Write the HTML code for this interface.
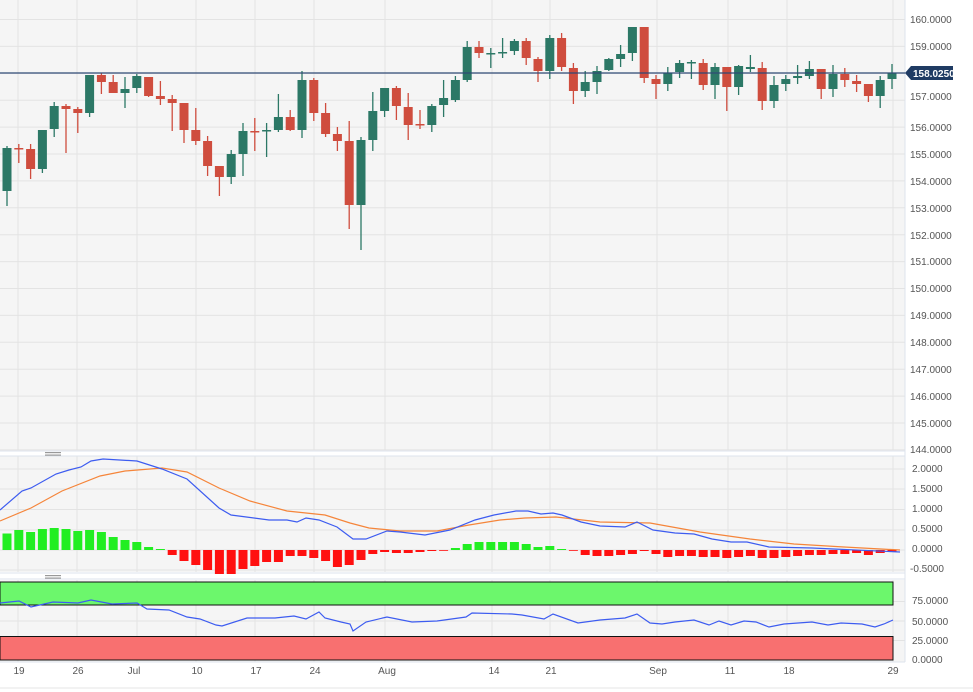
<!DOCTYPE html>
<html><head><meta charset="utf-8">
<style>
html,body{margin:0;padding:0;background:#fff;}
svg{display:block;font-family:"Liberation Sans",sans-serif;}
.ax{font-size:10px;fill:#555;}
.xl{font-size:10px;fill:#555;text-anchor:middle;}
</style></head>
<body>
<svg id="c" width="973" height="692" xmlns="http://www.w3.org/2000/svg">
<rect width="973" height="692" fill="#fff"/>
<rect x="0" y="0" width="905" height="450" fill="#f5f5f5"/>
<rect x="0" y="456" width="905" height="116" fill="#f5f5f5"/>
<rect x="0" y="580" width="905" height="82" fill="#f5f5f5"/>
<g id="grid" stroke="#e3e3e3" stroke-width="1"></g>
<line x1="905" y1="0" x2="905" y2="662" stroke="#dde3ec"/>
<line x1="0" y1="451" x2="905" y2="451" stroke="#dde3ec"/>
<line x1="0" y1="456" x2="905" y2="456" stroke="#dde3ec"/>
<line x1="0" y1="573" x2="905" y2="573" stroke="#dde3ec"/>
<line x1="0" y1="579" x2="905" y2="579" stroke="#dde3ec"/>
<line x1="0" y1="662" x2="905" y2="662" stroke="#dde3ec"/>
<line x1="0" y1="688" x2="973" y2="688" stroke="#e6e6e6"/>
<g fill="#999"><rect x="45" y="452" width="16" height="1.2"/><rect x="45" y="454.5" width="16" height="1.2"/>
<rect x="45" y="575" width="16" height="1.2"/><rect x="45" y="577.5" width="16" height="1.2"/></g>
<rect x="0" y="582" width="893" height="23" fill="#6cf76c" stroke="#111" stroke-width="1"/>
<rect x="0" y="636.5" width="893" height="23.5" fill="#f87070" stroke="#111" stroke-width="1"/>
<g id="candles"></g>
<g id="hist"></g>
<line x1="0" y1="73" x2="905" y2="73" stroke="#2f4a75" stroke-width="1.2"/>
<path d="M905 73 L911 66 L953 66 L953 80 L911 80 Z" fill="#1f3b63"/>
<text x="913" y="77" font-size="10" font-weight="bold" fill="#fff">158.0250</text>
<g class="ax">
<text x="910" y="23">160.0000</text><text x="910" y="50">159.0000</text>
<text x="910" y="131">156.0000</text><text x="910" y="158">155.0000</text><text x="910" y="185">154.0000</text>
<text x="910" y="212">153.0000</text><text x="910" y="239">152.0000</text><text x="910" y="265">151.0000</text>
<text x="910" y="292">150.0000</text><text x="910" y="319">149.0000</text><text x="910" y="346">148.0000</text>
<text x="910" y="373">147.0000</text><text x="910" y="400">146.0000</text><text x="910" y="427">145.0000</text>
<text x="910" y="100">157.0000</text><text x="910" y="453">144.0000</text>
<text x="912" y="472">2.0000</text><text x="912" y="492">1.5000</text><text x="912" y="512">1.0000</text>
<text x="912" y="532">0.5000</text><text x="912" y="552">0.0000</text><text x="910" y="572">-0.5000</text>
<text x="912" y="604">75.0000</text><text x="912" y="625">50.0000</text><text x="912" y="644">25.0000</text><text x="912" y="663">0.0000</text>
</g>
<g class="xl">
<text x="19" y="674">19</text><text x="78" y="674">26</text><text x="134" y="674">Jul</text><text x="197" y="674">10</text>
<text x="256" y="674">17</text><text x="315" y="674">24</text><text x="387" y="674">Aug</text><text x="494" y="674">14</text>
<text x="551" y="674">21</text><text x="658" y="674">Sep</text><text x="730" y="674">11</text><text x="789" y="674">18</text><text x="893" y="674">29</text>
</g>
<polyline fill="none" stroke="#f5853a" stroke-width="1.2" points="0,521 31,508 62,491 100,476 125,471 162,468 187,472 219,488 250,501 287,511 325,515 350,523 369,528 400,531 437,531 469,525 500,520 525,518 556,517 600,522 650,523 700,532 750,539 794,544 844,547 900,550"/>
<polyline fill="none" stroke="#3d5cf0" stroke-width="1.2" points="0,510 22,491 31,488 56,474 69,470 81,467 91,461 103,459 137,461 162,469 187,479 219,508 231,515 269,520 287,520 297,522 306,518 319,520 337,527 353,539 366,539 387,531 400,532 425,535 450,530 475,520 494,515 516,511 528,511 541,514 553,513 562,515 581,522 600,526 625,527 637,522 653,530 675,533 694,534 712,539 731,542 747,542 769,547 812,548 900,552"/>
<polyline fill="none" stroke="#3d5cf0" stroke-width="1.2" points="0,603 19,601 31,607 53,602 78,603 91,600 112,604 137,603 147,609 169,610 187,617 200,619 216,625 222,626 247,618 275,618 294,616 306,619 319,612 325,618 341,622 350,624 353,631 366,622 387,617 412,622 437,621 466,617 472,613 512,614 522,615 544,619 553,614 578,623 600,620 625,618 637,614 650,623 662,624 675,622 694,620 709,625 719,621 731,625 744,621 756,622 769,627 784,624 812,622 828,625 841,623 862,624 875,627 884,624 893,620"/>
</svg>
<script>
var NS="http://www.w3.org/2000/svg";
function el(p,t,a){var e=document.createElementNS(NS,t);for(var k in a)e.setAttribute(k,a[k]);p.appendChild(e);return e;}
var g=document.getElementById('grid');
for(var k=0;k<17;k++){var y=19.5+26.9*k;el(g,'line',{x1:0,y1:y,x2:905,y2:y});}
[469,489,509.5,530,550,570].forEach(function(y){el(g,'line',{x1:0,y1:y,x2:905,y2:y});});
[601.5,621,640.5].forEach(function(y){el(g,'line',{x1:0,y1:y,x2:905,y2:y});});
[18,77,137,196,255,314,385,492,550,657,728,787,893].forEach(function(x){
 el(g,'line',{x1:x,y1:0,x2:x,y2:450});el(g,'line',{x1:x,y1:456,x2:x,y2:572});el(g,'line',{x1:x,y1:580,x2:x,y2:662});});
var C=[
['g',148,191,146,206],['r',148,149,144,163],['r',149,169,144,179],['g',130,169,130,173],['g',106,129,102,137],
['r',106,109,104,153],['r',109,113,107,133],['g',75,113,75,117],['r',75,82,73,94],['r',82,93,75,93],
['g',89,93,77,108],['g',76,88,74,93],['r',77,96,77,97],['r',96,99,81,105],['r',99,103,95,131],
['r',103,130,103,143],['r',130,141,108,145],['r',141,166,136,176],['r',166,177,166,196],['g',154,177,150,184],
['g',131,154,123,176],['r',131,132,118,151],['g',130,131,123,157],['g',117,130,94,132],['r',117,130,110,131],
['g',80,130,71,138],['r',80,113,78,121],['r',113,134,103,137],['r',134,141,127,151],['r',141,205,121,229],
['g',140,205,137,250],['g',111,140,92,151],['g',88,111,88,117],['r',88,106,86,120],['r',107,125,93,140],
['r',124,125,110,129],['g',106,125,104,132],['g',98,105,80,117],['g',80,100,76,102],['g',47,80,41,82],
['r',47,53,41,58],['g',53,54,48,68],['g',52,53,38,58],['g',41,51,39,55],['r',41,58,38,65],
['r',59,71,57,82],['g',38,71,35,79],['r',38,67,33,71],['r',68,91,63,104],['g',82,91,71,97],
['g',71,82,66,94],['g',59,70,58,71],['g',54,59,45,67],['g',27,53,27,61],['r',27,78,27,83],
['r',79,84,75,99],['g',73,84,67,91],['g',63,72,60,78],['g',62,63,60,79],['r',63,85,59,90],
['g',67,85,63,99],['r',67,87,67,111],['g',66,87,65,95],['g',67,69,55,72],['r',68,101,62,110],
['g',85,101,76,108],['g',79,84,75,91],['g',76,78,65,84],['g',69,76,61,79],['r',69,89,69,99],
['g',74,89,65,97],['r',74,80,68,87],['r',81,84,75,92],['r',84,96,84,102],['g',80,96,76,108],['g',73,79,64,89]];
var cg=document.getElementById('candles');
C.forEach(function(c,i){var x=7+11.8*i;var col=c[0]=='g'?'#2c7866':'#cf4d3e';
 el(cg,'line',{x1:x,y1:c[3],x2:x,y2:c[4],stroke:col,'stroke-width':1.3});
 var h=Math.max(1.5,c[2]-c[1]);el(cg,'rect',{x:x-4.5,y:c[1],width:9,height:h,fill:col});});
var H=[533.5,530,532,529,528,529,531,530,532,537,540,542,547,549,555,561,565,570,574,574,569,566,562,562,556,556,558,561,567,565,560,554,552,553,553,552,551,550,548,544,542,542,542,542,544,547,546,549,550,555,556,556,555,554,551,554,557,556,556,557,557,558,557,556,558,558,557,556,555,555,554,554,553,555,553,552];
var hg=document.getElementById('hist');
H.forEach(function(y,i){var x=7+11.8*i;var z=550;
 if(y<z)el(hg,'rect',{x:x-4.5,y:y,width:9,height:z-y,fill:'#22ee22'});
 else el(hg,'rect',{x:x-4.5,y:z,width:9,height:Math.max(0.8,y-z),fill:'#ff1010'});});
</script>
</body></html>
